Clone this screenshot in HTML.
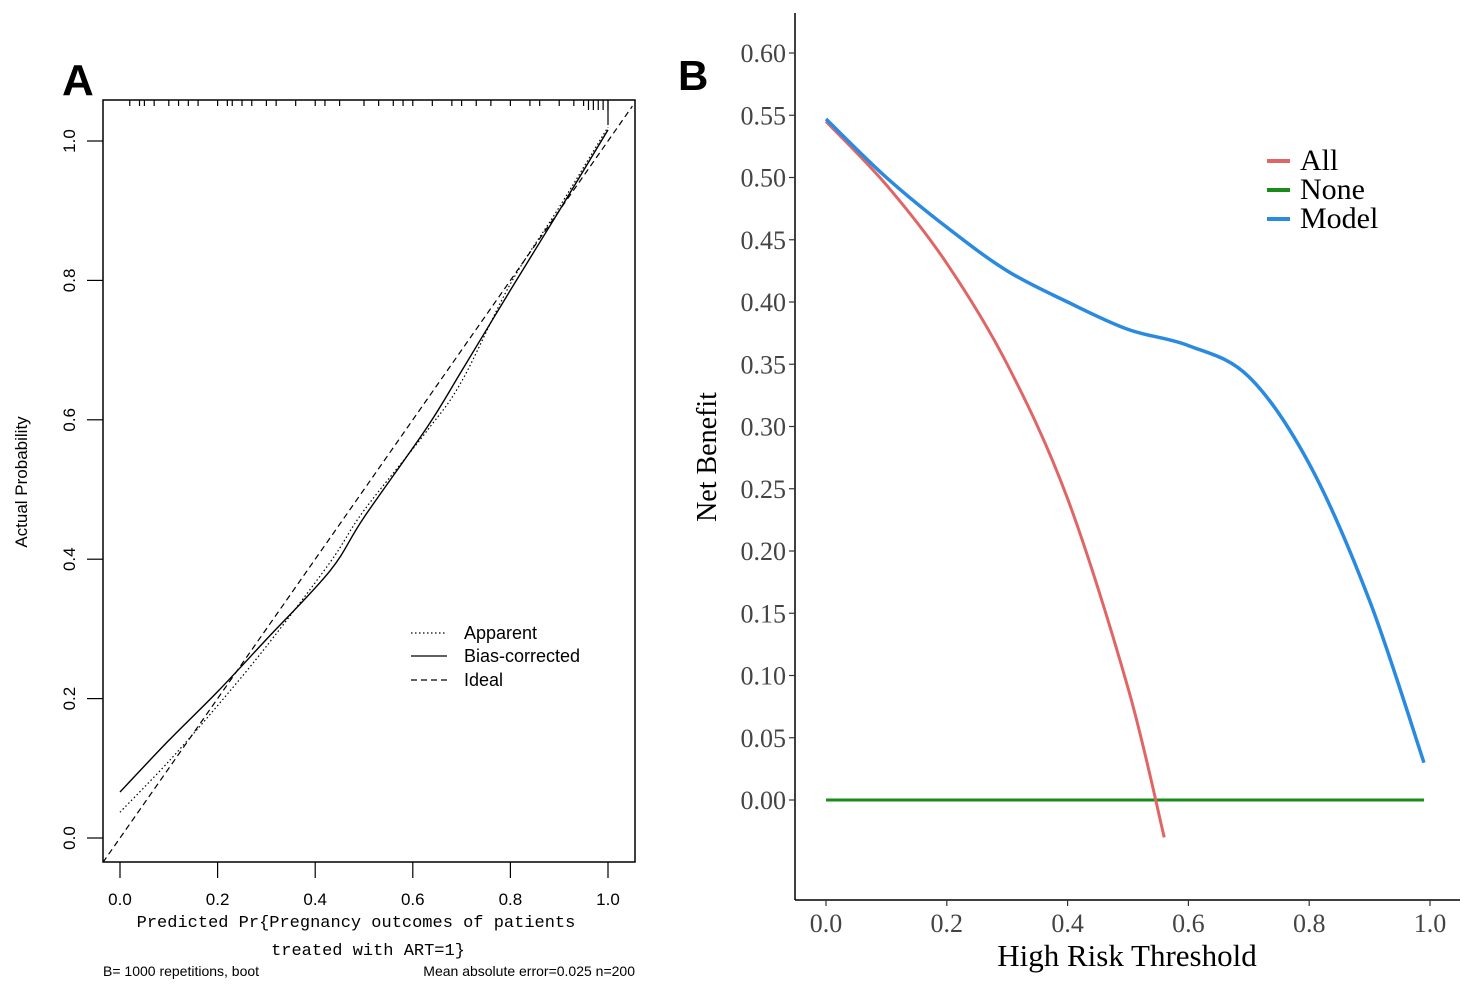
<!DOCTYPE html>
<html><head><meta charset="utf-8"><style>
body{margin:0;background:#fff;}
svg{display:block;}
</style></head><body>
<svg id="chart" width="1477" height="989" viewBox="0 0 1477 989" xmlns="http://www.w3.org/2000/svg">
<g id="pa"></g>
<g id="pb"></g>
</svg>
<script>
// Panel A data
const calX = [0.0, 0.1, 0.2, 0.3, 0.43, 0.5, 0.63, 0.7, 0.8, 0.9, 1.0];
const apparentY = [0.037, 0.11, 0.19, 0.275, 0.395, 0.47, 0.585, 0.655, 0.795, 0.905, 1.02];
const biasY = [0.066, 0.14, 0.21, 0.285, 0.383, 0.46, 0.59, 0.67, 0.786, 0.9, 1.016];
const calTicks = [0.0, 0.2, 0.4, 0.6, 0.8, 1.0];
const rug = [0.02,0.04,0.05,0.07,0.1,0.12,0.14,0.16,0.2,0.22,0.23,0.25,0.27,0.3,0.32,0.36,0.4,0.42,0.45,0.5,0.53,0.56,0.58,0.6,0.64,0.68,0.7,0.73,0.76,0.8,0.84,0.86,0.9,0.93,0.95,0.96,0.97,0.98,0.99,1.0];
// Panel B data
const thr = [0.0, 0.1, 0.2, 0.3, 0.4, 0.5, 0.56];
const allNB = [0.545, 0.494, 0.431, 0.35, 0.242, 0.09, -0.03];
const modelX = [0.0, 0.1, 0.2, 0.3, 0.4, 0.5, 0.6, 0.7, 0.8, 0.9, 0.99];
const modelNB = [0.547, 0.5, 0.46, 0.425, 0.40, 0.378, 0.365, 0.34, 0.27, 0.16, 0.03];
const noneX = [0.0, 0.99];
const noneNB = [0, 0];
const nbTicks = [0.00,0.05,0.10,0.15,0.20,0.25,0.30,0.35,0.40,0.45,0.50,0.55,0.60];
const thrTicks = [0.0,0.2,0.4,0.6,0.8,1.0];

const NS='http://www.w3.org/2000/svg';
function mk(parent, tag, attrs, txt){const e=document.createElementNS(NS,tag);for(const k in attrs)e.setAttribute(k,attrs[k]);if(txt!==undefined)e.textContent=txt;parent.appendChild(e);return e;}
function smooth(pts){let d='M'+pts[0][0]+','+pts[0][1];for(let i=0;i<pts.length-1;i++){const p0=pts[i-1]||pts[i],p1=pts[i],p2=pts[i+1],p3=pts[i+2]||p2;d+=' C'+(p1[0]+(p2[0]-p0[0])/6)+','+(p1[1]+(p2[1]-p0[1])/6)+' '+(p2[0]-(p3[0]-p1[0])/6)+','+(p2[1]-(p3[1]-p1[1])/6)+' '+p2[0]+','+p2[1];}return d;}

// Panel A
const A=document.getElementById('pa');
const ax=v=>120+v*488, ay=v=>838-v*697;
let e;
e=mk(A,'text',{x:62,y:95,'font-family':'Liberation Sans, sans-serif','font-size':44,'font-weight':'bold'},'A');

e=mk(A,'rect',{x:103,y:100,width:532,height:762,fill:'none',stroke:'#000','stroke-width':1.5});

rug.forEach(v=>{e=mk(A,'line',{x1:ax(v),x2:ax(v),y1:100,y2:v>0.95?110:106,stroke:'#000','stroke-width':1.2});
});
e=mk(A,'line',{x1:ax(1),x2:ax(1),y1:100,y2:125,stroke:'#000','stroke-width':1.2});

e=mk(A,'line',{x1:ax(-0.035),y1:ay(-0.035),x2:ax(1.05),y2:ay(1.05),stroke:'#000','stroke-width':1.2,'stroke-dasharray':'6,4'});

e=mk(A,'path',{d:smooth(calX.map((x,i)=>[ax(x),ay(apparentY[i])])),fill:'none',stroke:'#000','stroke-width':1.2,'stroke-dasharray':'1.5,2.5'});

e=mk(A,'path',{d:smooth(calX.map((x,i)=>[ax(x),ay(biasY[i])])),fill:'none',stroke:'#000','stroke-width':1.4});

calTicks.forEach(v=>{
 e=mk(A,'line',{x1:ax(v),x2:ax(v),y1:862,y2:878,stroke:'#000','stroke-width':1.2});
 
 e=mk(A,'text',{x:ax(v),y:905,'text-anchor':'middle','font-family':'Liberation Sans, sans-serif','font-size':17},v.toFixed(1));
 
 e=mk(A,'line',{x1:87,x2:103,y1:ay(v),y2:ay(v),stroke:'#000','stroke-width':1.2});
 
 e=mk(A,'text',{x:75,y:ay(v),'text-anchor':'middle','font-family':'Liberation Sans, sans-serif','font-size':17,transform:'rotate(-90 75 '+ay(v)+')'},v.toFixed(1));
 
});
e=mk(A,'text',{x:27,y:482,'text-anchor':'middle','font-family':'Liberation Sans, sans-serif','font-size':17,transform:'rotate(-90 27 482)'},'Actual Probability');

e=mk(A,'text',{x:356,y:927,'text-anchor':'middle','font-family':'Liberation Mono, monospace','font-size':17},'Predicted Pr{Pregnancy outcomes of patients');

e=mk(A,'text',{x:368,y:955,'text-anchor':'middle','font-family':'Liberation Mono, monospace','font-size':17},'treated with ART=1}');

e=mk(A,'text',{x:103,y:976,'font-family':'Liberation Sans, sans-serif','font-size':14},'B= 1000 repetitions, boot');

e=mk(A,'text',{x:635,y:976,'text-anchor':'end','font-family':'Liberation Sans, sans-serif','font-size':14},'Mean absolute error=0.025 n=200');

[['Apparent','1.5,2.5',638],['Bias-corrected','',661],['Ideal','6,4',685]].forEach(l=>{
 e=mk(A,'line',{x1:411,x2:447,y1:l[2]-5,y2:l[2]-5,stroke:'#000','stroke-width':1.2,'stroke-dasharray':l[1]||'none'});
 
 e=mk(A,'text',{x:464,y:l[2]+1,'font-family':'Liberation Sans, sans-serif','font-size':18},l[0]);
 
});

// Panel B
const B=document.getElementById('pb');
const bx=v=>826+v*604, by=v=>800-v*1245;
e=mk(B,'text',{x:678,y:90,'font-family':'Liberation Sans, sans-serif','font-size':42,'font-weight':'bold'},'B');

e=mk(B,'line',{x1:795,x2:795,y1:13,y2:900,stroke:'#000','stroke-width':1.5});

e=mk(B,'line',{x1:795,x2:1460,y1:900,y2:900,stroke:'#000','stroke-width':1.5});

nbTicks.forEach(v=>{
 e=mk(B,'line',{x1:789,x2:795,y1:by(v),y2:by(v),stroke:'#333','stroke-width':1.2});
 
 e=mk(B,'text',{x:786,y:by(v)+9,'text-anchor':'end','font-family':'Liberation Serif, serif','font-size':26,fill:'#444'},v.toFixed(2));
 
});
thrTicks.forEach(v=>{
 e=mk(B,'line',{x1:bx(v),x2:bx(v),y1:900,y2:906,stroke:'#333','stroke-width':1.2});
 
 e=mk(B,'text',{x:bx(v),y:932,'text-anchor':'middle','font-family':'Liberation Serif, serif','font-size':26,fill:'#444'},v.toFixed(1));
 
});
e=mk(B,'text',{x:1127,y:966,'text-anchor':'middle','font-family':'Liberation Serif, serif','font-size':31},'High Risk Threshold');

e=mk(B,'text',{x:716,y:457,'text-anchor':'middle','font-family':'Liberation Serif, serif','font-size':28,transform:'rotate(-90 716 457)'},'Net Benefit');

e=mk(B,'path',{d:smooth(noneX.map((x,i)=>[bx(x),by(noneNB[i])])),fill:'none',stroke:'#1a8a1a','stroke-width':3});

e=mk(B,'path',{d:smooth(thr.map((x,i)=>[bx(x),by(allNB[i])])),fill:'none',stroke:'#e06666','stroke-width':3});

e=mk(B,'path',{d:smooth(modelX.map((x,i)=>[bx(x),by(modelNB[i])])),fill:'none',stroke:'#2a8ae0','stroke-width':3.5});

[['All','#e06666',170],['None','#1a8a1a',199],['Model','#2a8ae0',228]].forEach(l=>{
 e=mk(B,'line',{x1:1267,x2:1290,y1:l[2]-9,y2:l[2]-9,stroke:l[1],'stroke-width':4});
 
 e=mk(B,'text',{x:1300,y:l[2],'font-family':'Liberation Serif, serif','font-size':30},l[0]);
 
});
</script>
</body></html>
